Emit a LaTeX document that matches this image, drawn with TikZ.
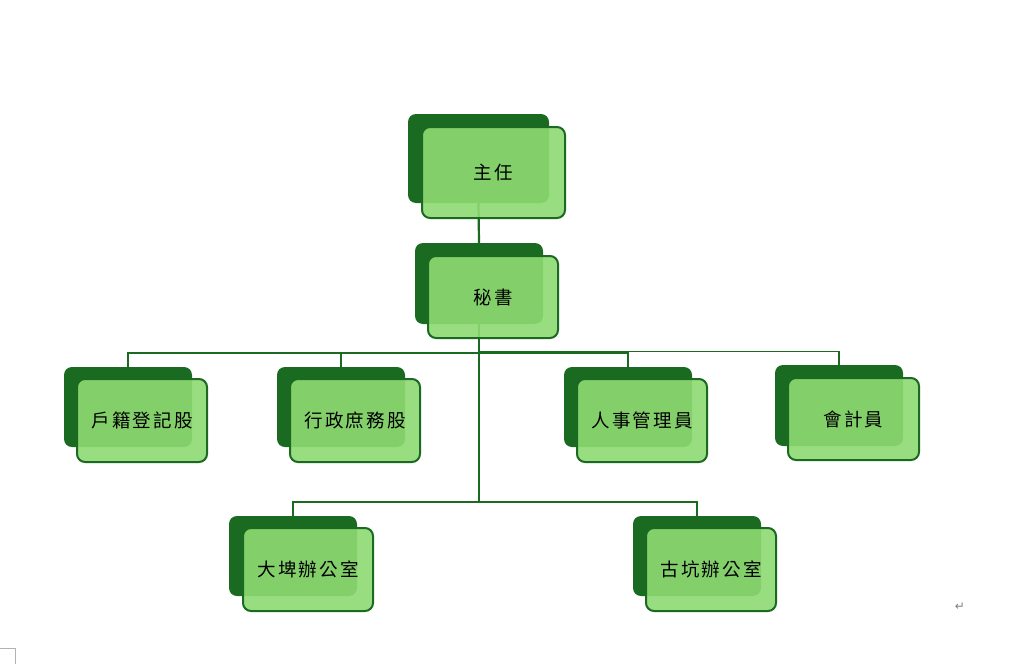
\documentclass[tikz,border=0pt]{standalone}
\usepackage{fontspec}
\newfontfamily\cjk[LetterSpace=12]{Noto Sans CJK TC}
\newfontfamily\dejavu{DejaVu Sans}
\definecolor{dk}{HTML}{1A6A22}
\definecolor{lt}{HTML}{8EDB73}
\tikzset{
  backbox/.style={fill=dk, rounded corners=8pt, inner sep=0pt, minimum width=128pt, minimum height=80pt},
  frontbox/.style={fill=lt, fill opacity=0.91, text opacity=1, draw=dk, draw opacity=1, line width=2pt,
    rounded corners=8pt, inner sep=0pt, minimum width=130pt, minimum height=83pt,
    font=\cjk\fontsize{18.5}{22}\selectfont, text=black},
  conn/.style={draw=dk, line width=2.2pt},
  connthin/.style={draw=dk, line width=1.7pt}
}
\begin{document}
\begin{tikzpicture}[x=1pt,y=-1pt]
\useasboundingbox (0,0) rectangle (1031,664);
% back boxes
\node[backbox, minimum width=141pt, minimum height=89pt] (zr-b) at (478.5,158.5) {};
\node[backbox, minimum height=81pt] (ms-b) at (479,283.5) {};
\node[backbox] (hj-b) at (128,407) {};
\node[backbox] (xz-b) at (341,407) {};
\node[backbox] (rs-b) at (628,407) {};
\node[backbox, minimum height=81pt] (kj-b) at (839,405.5) {};
\node[backbox] (dp-b) at (293,556) {};
\node[backbox] (gk-b) at (697,556) {};
% connectors
\coordinate (busA) at (479,353);
\coordinate (busB) at (479,351.5);
\coordinate (busC) at (479,502);
\draw[conn] (zr-b.south) -- (ms-b.north);
\draw[conn] (ms-b.south) -- (busC);
\draw[conn] (hj-b.north) |- (busA);
\draw[conn] (xz-b.north) |- (busA);
\draw[conn] (rs-b.north) |- (busA);
\draw[connthin] (kj-b.north) |- (busB);
\draw[conn] (dp-b.north) |- (busC);
\draw[conn] (gk-b.north) |- (busC);
% front boxes
\node[frontbox, minimum width=143pt, minimum height=91pt] (zr) at (493.5,172.5) {主任};
\node[frontbox, minimum height=82pt] (ms) at (493,297) {秘書};
\node[frontbox] (hj) at (142,420.5) {戶籍登記股};
\node[frontbox] (xz) at (355,420.5) {行政庶務股};
\node[frontbox] (rs) at (642,420.5) {人事管理員};
\node[frontbox, minimum width=131pt, minimum height=82pt] (kj) at (853.5,419) {會計員};
\node[frontbox] (dp) at (308,569.5) {大埤辦公室};
\node[frontbox] (gk) at (711,569.5) {古坑辦公室};
% word-processor marks
\node[font=\dejavu\fontsize{12}{13}\selectfont, text=gray, inner sep=0pt] (ret) at (960,607) {↵};
\draw[gray!60, line width=1pt] (0,648.5) -- (15.5,648.5) -- (15.5,664);
\end{tikzpicture}
\end{document}
